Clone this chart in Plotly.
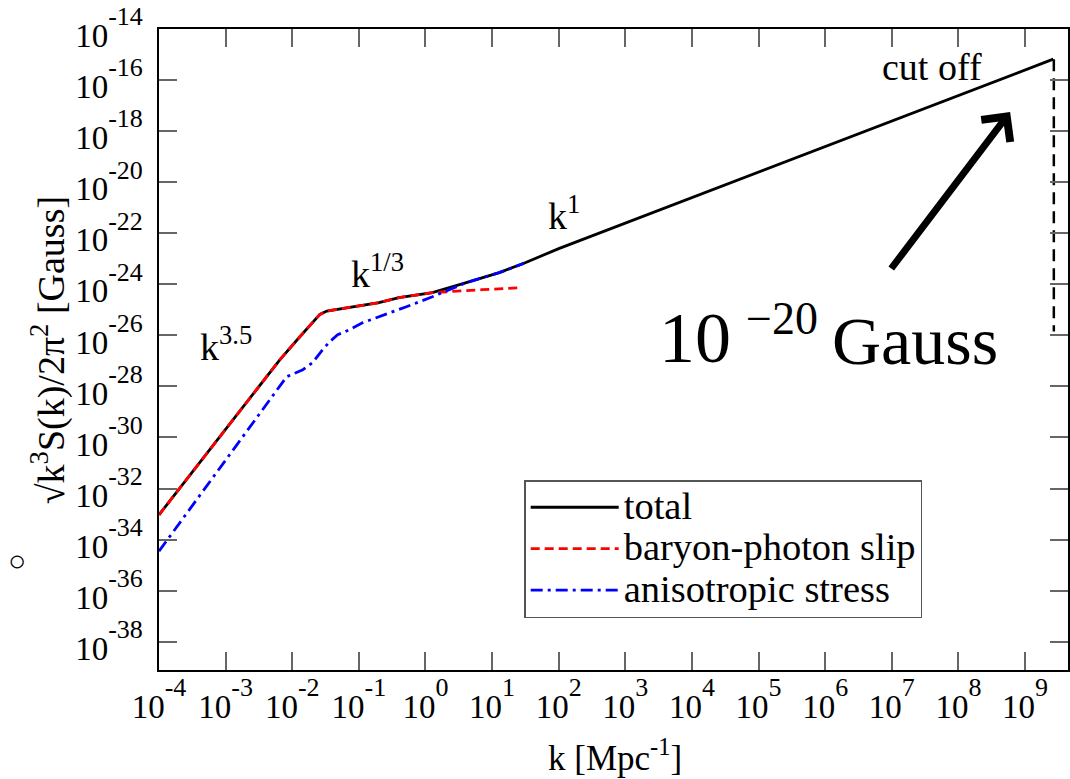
import plotly.graph_objects as go

# ---------------- data ----------------
k_total = [1e-4, 2.3e-3, 6.5e-3, 1.3e-2, 2.04e-2, 2.6e-2, 3.3e-2, 6.5e-2, 0.2, 0.4,
           1.27, 4.1, 12.8, 32, 100, 2.65e9]
S_total = [9.3e-34, 3.6e-29, 1.1e-27, 8.8e-27, 3.3e-26, 6.6e-26, 8.9e-26, 1.2e-25,
           1.9e-25, 3.0e-25, 4.7e-25, 1.16e-24, 2.85e-24, 7.1e-24, 2.5e-23, 6.6e-16]

k_slip = [1e-4, 2.3e-3, 6.5e-3, 1.3e-2, 2.04e-2, 2.6e-2, 3.3e-2, 6.5e-2, 0.2, 0.4,
          1.27, 7.1, 28]
S_slip = [9.3e-34, 3.6e-29, 1.1e-27, 8.8e-27, 3.3e-26, 6.6e-26, 8.9e-26, 1.2e-25,
          1.9e-25, 3.0e-25, 4.7e-25, 6.15e-25, 7.35e-25]

k_aniso = [1e-4, 8.26e-3, 1.44e-2, 2.02e-2, 2.86e-2, 3.64e-2, 4.8e-2, 7.2e-2, 0.113,
           0.204, 0.366, 0.518, 1.27, 1.8, 4.1, 12.8, 30]
S_aniso = [3.5e-35, 2.4e-28, 4.5e-28, 8.5e-28, 2.75e-27, 5.6e-27, 1.05e-26, 1.65e-26,
           3.1e-26, 5.4e-26, 1.0e-25, 1.32e-25, 3.25e-25, 4.7e-25, 1.16e-24, 2.85e-24, 6.6e-24]

k_cut = [2.7e9, 2.7e9]
S_cut = [6.6e-16, 1.4e-26]

x_exps = list(range(-4, 10))
y_exps = list(range(-38, -13, 2))

FONT = "Liberation Serif"

def power_label(e):
    return ("<span style='font-size:33px'>10</span>"
            "<sup><span style='font-size:26px'>%d</span></sup>" % e)

x_tickvals = [10.0 ** e for e in x_exps]
x_ticktext = [power_label(e) for e in x_exps]
y_tickvals = [10.0 ** e for e in y_exps]
y_ticktext = [power_label(e) for e in y_exps]

# ---------------- layout helpers (pixel -> paper) ----------------
L, R, T, B = 159, 1070, 29, 670
def px(x):
    return (x - L) / (R - L)
def py(y):
    return (B - y) / (B - T)

LEG = "<span style='font-size:38.5px'>%s</span>"

fig = go.Figure()
fig.add_trace(go.Scatter(x=k_total, y=S_total, mode="lines", name=LEG % "total",
                         line=dict(color="black", width=2.8)))
fig.add_trace(go.Scatter(x=k_slip, y=S_slip, mode="lines", name=LEG % "baryon-photon slip",
                         line=dict(color="#ff0000", width=2.8, dash="9px,5px")))
fig.add_trace(go.Scatter(x=k_aniso, y=S_aniso, mode="lines", name=LEG % "anisotropic stress",
                         line=dict(color="#0000ff", width=2.8, dash="12px,5px,3px,5px")))
fig.add_trace(go.Scatter(x=k_cut, y=S_cut, mode="lines", showlegend=False,
                         line=dict(color="black", width=2.5, dash="12px,7px")))

axis_common = dict(
    showgrid=False, zeroline=False, showline=True, linecolor="black", linewidth=1.5,
    mirror="ticks", ticks="inside", ticklen=18, tickwidth=1.5, tickcolor="#666666",
    tickfont=dict(family=FONT, size=52, color="black"),
)
fig.update_xaxes(type="log", range=[-4, 9.644], tickvals=x_tickvals, ticktext=x_ticktext,
                 ticklabelstandoff=-16, **axis_common)
fig.update_yaxes(type="log", range=[-39.11, -14], tickvals=y_tickvals, ticktext=y_ticktext,
                 ticklabelstandoff=4, **axis_common)

def txt(text, x, y, size, **kw):
    d = dict(text=text, x=px(x), y=py(y), xref="paper", yref="paper", showarrow=False,
             xanchor="center", yanchor="middle", font=dict(family=FONT, size=size, color="black"))
    d.update(kw)
    fig.add_annotation(**d)

txt("k<sup>3.5</sup>", 226, 344, 38)
txt("k<sup>1/3</sup>", 378, 271, 38)
txt("k<sup>1</sup>", 565, 213, 38)
txt("cut off", 934, 67, 38)
txt("10", 696, 338, 72)
txt("\u221220", 783, 318, 46)
txt("Gauss", 917, 341, 68)
txt("\u25cb", 17, 560, 30)
# axis titles
txt("\u221ak<sup>3</sup>S(k)/2\u03c0<sup>2</sup> [Gauss]", 48, 350, 38, textangle=-90)
txt("k [Mpc<sup>-1</sup>]", 616, 756, 35)

# big arrow
fig.add_annotation(x=px(1012), y=py(112), xref="paper", yref="paper", text="",
                   showarrow=True, ax=-120, ay=158, arrowhead=4, arrowsize=1,
                   arrowwidth=7, arrowcolor="black", standoff=0)

fig.update_layout(
    width=1070, height=779, autosize=False,
    margin=dict(l=L, r=1070 - R, t=T, b=779 - B),
    paper_bgcolor="white", plot_bgcolor="white",
    font=dict(family=FONT, color="black"),
    legend=dict(x=px(525), y=py(480), xanchor="left", yanchor="top",
                bgcolor="white", bordercolor="#555555", borderwidth=1.5,
                font=dict(family=FONT, size=29.6, color="black"),
                itemwidth=88, tracegroupgap=0),
)

fig.write_html("out.html")
